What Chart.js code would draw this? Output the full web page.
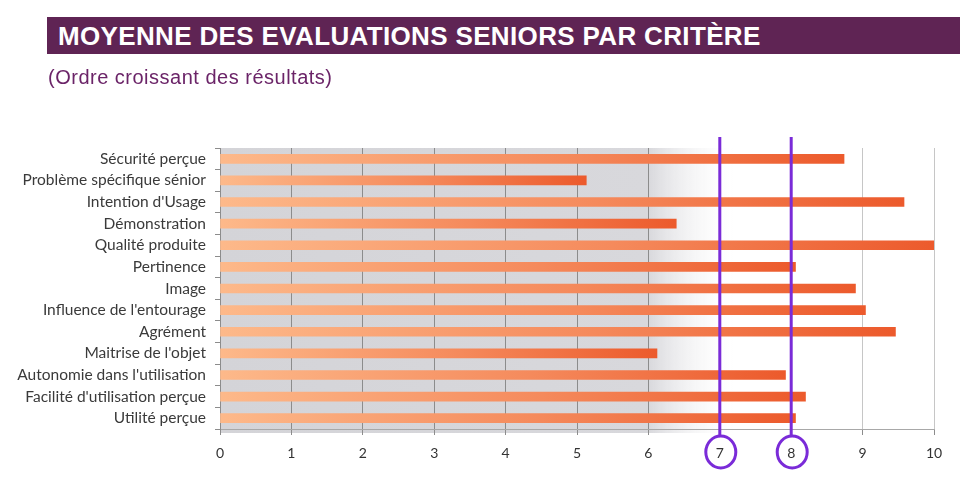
<!DOCTYPE html>
<html>
<head>
<meta charset="utf-8">
<script src="https://cdn.jsdelivr.net/npm/chart.js@4"></script>
<style>
  html, body { margin: 0; padding: 0; background: #fff; }
  #wrap { position: relative; width: 975px; height: 482px; }
  #titre {
    position: absolute; left: 47px; top: 17px; width: 902px; height: 37px;
    background: #5f2454; color: #fff; padding-left: 11px; letter-spacing: 0.35px;
    font: bold 26px "Liberation Sans", Arial, sans-serif; line-height: 38px;
  }
  #sous {
    position: absolute; left: 48px; top: 66px; color: #6b2468; letter-spacing: 0.5px;
    font: 20px "Liberation Sans", Arial, sans-serif;
  }
  canvas { position: absolute; left: 0; top: 0; }
</style>
</head>
<body>
<div id="wrap">
  <canvas id="chart" width="975" height="482"></canvas>
  <div id="titre">MOYENNE DES EVALUATIONS SENIORS PAR CRITÈRE</div>
  <div id="sous">(Ordre croissant des résultats)</div>
</div>
<script>
// criteres et moyennes
const criteres = [
  'Sécurité perçue', 'Problème spécifique sénior', "Intention d'Usage", 'Démonstration',
  'Qualité produite', 'Pertinence', 'Image', "Influence de l'entourage", 'Agrément',
  "Maitrise de l'objet", "Autonomie dans l'utilisation", "Facilité d'utilisation perçue", 'Utilité perçue'
];
const moyennes = [8.74, 5.13, 9.58, 6.39, 10.0, 8.06, 8.9, 9.04, 9.46, 6.12, 7.92, 8.2, 8.06];
const seuils = [7, 8]; // lignes violettes
const echelle = { min: 0, max: 10, pas: 1 };

const fond = {
  id: 'fond',
  beforeDraw(chart) {
    const { ctx, chartArea: a, scales } = chart;
    const x6 = scales.x.getPixelForValue(6);
    const xFin = scales.x.getPixelForValue(7.25);
    const g = ctx.createLinearGradient(a.left, 0, xFin, 0);
    const p = (x6 - a.left) / (xFin - a.left);
    g.addColorStop(0, '#d4d4d8');
    g.addColorStop(p, '#d8d8dc');
    g.addColorStop(1, 'rgba(255,255,255,0)');
    ctx.save();
    ctx.fillStyle = g;
    ctx.fillRect(a.left, a.top, xFin - a.left, a.bottom - a.top + 4);
    ctx.restore();
  }
};

const reperes = {
  id: 'reperes',
  afterDraw(chart) {
    const { ctx, chartArea: a, scales } = chart;
    ctx.save();
    ctx.strokeStyle = '#7a2bd8';
    ctx.lineWidth = 3;
    seuils.forEach(v => {
      const x = scales.x.getPixelForValue(v);
      ctx.beginPath();
      ctx.moveTo(x, a.top - 11);
      ctx.lineTo(x, a.bottom + 7);
      ctx.stroke();
      ctx.beginPath();
      ctx.ellipse(x + 1, a.bottom + 23, 15, 16, 0, 0, Math.PI * 2);
      ctx.stroke();
    });
    ctx.restore();
  }
};

function degrade(c) {
  const chart = c.chart;
  const a = chart.chartArea;
  if (!a || !chart.scales.x) return '#f47c4c';
  const x0 = a.left;
  const x1 = chart.scales.x.getPixelForValue(c.raw);
  const g = chart.ctx.createLinearGradient(x0, 0, x1, 0);
  g.addColorStop(0, '#fdb98a');
  g.addColorStop(0.55, '#f58a5c');
  g.addColorStop(1, '#ec5a2c');
  return g;
}

const ctx = document.getElementById('chart').getContext('2d');
new Chart(ctx, {
  type: 'bar',
  data: {
    labels: criteres,
    datasets: [{
      label: 'Moyenne',
      data: moyennes,
      backgroundColor: degrade,
      barThickness: 9
    }]
  },
  options: {
    indexAxis: 'y',
    responsive: false,
    animation: false,
    layout: { padding: { top: 148, right: 41, left: 0, bottom: 0 } },
    plugins: { legend: { display: false }, tooltip: { enabled: false } },
    scales: {
      x: {
        min: echelle.min, max: echelle.max,
        afterFit(s) { s.height = 53; },
        ticks: { stepSize: echelle.pas, color: '#333', padding: 10, font: { family: 'Lato', size: 14 } },
        grid: {
          color: c => c.tick && c.tick.value <= 6 ? '#8c8c8c' : '#c6c6c6',
          tickColor: '#8c8c8c', tickLength: 6, lineWidth: 1
        },
        border: { color: '#a8a8a8' }
      },
      y: {
        afterFit(s) { s.width = 220; },
        ticks: { color: '#3a3a3a', padding: 9, font: { family: 'Lato', size: 15.5 } },
        grid: { drawOnChartArea: false, tickLength: 5, tickColor: '#8c8c8c' },
        border: { color: '#8c8c8c' }
      }
    }
  },
  plugins: [fond, reperes]
});
</script>
</body>
</html>
